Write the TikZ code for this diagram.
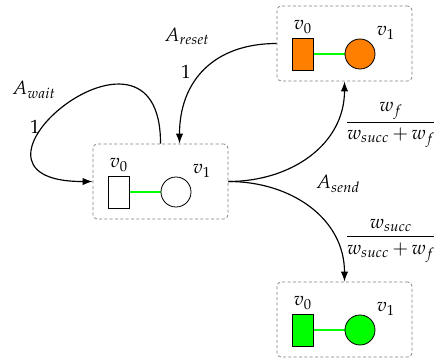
\documentclass[tikz,border=0pt]{standalone}
\usepackage{mathpazo}
\usetikzlibrary{arrows.meta}
\tikzset{
 frame/.style={draw=gray, dash pattern=on 1.8pt off 1.4pt, line width=0.45pt, rounded corners=2.5pt, minimum width=81pt, minimum height=45pt, inner sep=0pt},
 vsq/.style={draw, line width=0.5pt, minimum width=12.6pt, minimum height=19.2pt, inner sep=0pt},
 vci/.style={draw, circle, line width=0.5pt, minimum size=18pt, inner sep=0pt},
 edgeg/.style={green, line width=1.2pt},
 arr/.style={-{Latex[length=6pt,width=4.4pt]}, line width=0.7pt},
 lbl/.style={inner sep=0pt, font=\fontsize{11.5}{13}\selectfont}
}
\newcommand\stgroup[4]{%
 \node[frame] (#1box) at (#2+67.5, #3+37.5) {};
 \draw[edgeg] (#2+25.5, #3+48) -- (#2+83, #3+48);
 \node[vsq, fill=#4] (#1sq) at (#2+25.5, #3+48) {};
 \node[vci, fill=#4] (#1ci) at (#2+83, #3+48) {};
 \node[lbl] (#1la) at (#2+26,#3+21) {$v_0$};
 \node[lbl] (#1lb) at (#2+109,#3+27) {$v_1$};
}
\begin{document}
\begin{tikzpicture}[x=0.6pt, y=-0.6pt]
\useasboundingbox (0,0) rectangle (434,361);
\stgroup{top}{277}{6}{orange}
\stgroup{mid}{93}{144}{white}
\stgroup{bot}{277}{282}{green}
\draw[arr] (topbox.west) to[out=180,in=90,looseness=1.15] ([xshift=11.4pt]midbox.north);
\draw[arr] (midbox.north) .. controls (161,-10) and (-70,182) .. (midbox.west);
\draw[arr] (midbox.east) to[out=0,in=-90,looseness=1.05] (topbox.south);
\draw[arr] (midbox.east) to[out=0,in=90,looseness=1.05] (botbox.north);
\node[lbl] (lreset) at (187,36) {$A_{reset}$};
\node[lbl] (lone1) at (186,72) {$1$};
\node[lbl] (lwait) at (34,90) {$A_{wait}$};
\node[lbl] (lone2) at (35,127) {$1$};
\node[lbl] (lsend) at (338,184) {$A_{send}$};
\node[lbl] (lwf) at (391,125) {$\displaystyle\frac{w_f}{w_{succ}\,{+}\,w_f}$};
\node[lbl] (lws) at (391,241) {$\displaystyle\frac{w_{succ}}{w_{succ}\,{+}\,w_f}$};
\end{tikzpicture}
\end{document}
